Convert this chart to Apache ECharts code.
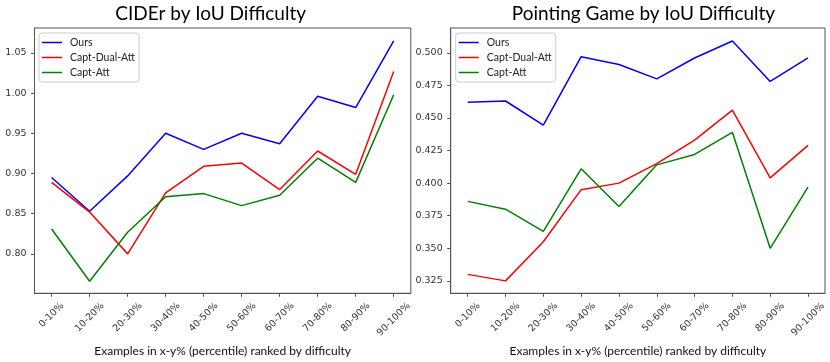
<!DOCTYPE html>
<html>
<head>
<meta charset="utf-8">
<script src="https://cdn.jsdelivr.net/npm/echarts@6/dist/echarts.min.js"></script>
<style>html,body{margin:0;padding:0;background:#fff;}#c{width:830px;height:362px;}</style>
</head>
<body>
<div id="c"></div>
<script>
const categories = ['0-10%','10-20%','20-30%','30-40%','40-50%','50-60%','60-70%','70-80%','80-90%','90-100%'];
const seriesNames = ['Ours','Capt-Dual-Att','Capt-Att'];
const ciderOurs     = [0.895,0.853,0.897,0.950,0.930,0.950,0.937,0.996,0.982,1.065];
const ciderDualAtt  = [0.889,0.852,0.800,0.876,0.909,0.913,0.880,0.928,0.899,1.027];
const ciderAtt      = [0.831,0.766,0.827,0.871,0.875,0.860,0.873,0.919,0.889,0.998];
const pgOurs        = [0.462,0.463,0.4445,0.497,0.491,0.480,0.496,0.509,0.478,0.496];
const pgDualAtt     = [0.330,0.325,0.355,0.395,0.400,0.415,0.433,0.456,0.404,0.429];
const pgAtt         = [0.386,0.380,0.363,0.411,0.382,0.414,0.422,0.439,0.350,0.397];
const ciderTicks = [0.80,0.85,0.90,0.95,1.00,1.05];
const pgTicks = [0.325,0.350,0.375,0.400,0.425,0.450,0.475,0.500];
const titles = ['CIDEr by IoU Difficulty','Pointing Game by IoU Difficulty'];
const xName = 'Examples in x-y% (percentile) ranked by difficulty';

const colors = ['#0000ff','#ff0000','#008000'];
const axisColor = '#555';
const tickFont = 'DejaVu Sans';
const tickSize = 9.5;
const labFont = 'Lato';

const ctx = document.createElement('canvas').getContext('2d');
ctx.font = tickSize + 'px "' + tickFont + '"';
const rich = {};
categories.forEach((c, i) => {
  const w = ctx.measureText(c).width;
  rich['c' + i] = {padding: [w * 0.5, w * 0.5, 0, 0], fontSize: tickSize, fontFamily: tickFont, color: '#333'};
});

function xAxis(gi) {
  return {
    type: 'value', gridIndex: gi, min: -0.45, max: 9.45,
    splitLine: {show: false},
    axisLine: {show: true, onZero: false, lineStyle: {color: axisColor}},
    axisTick: {show: true, inside: false, length: 3.5, lineStyle: {color: axisColor}, customValues: categories.map((c, i) => i)},
    axisLabel: {
      customValues: categories.map((c, i) => i),
      rotate: 45, align: 'center', verticalAlign: 'middle', margin: 11,
      formatter: v => '{c' + Math.round(v) + '|' + categories[Math.round(v)] + '}',
      rich: rich
    },
    name: xName, nameLocation: 'middle', nameGap: 50,
    nameTextStyle: {fontFamily: labFont, fontSize: 12, color: '#111', verticalAlign: 'middle'}
  };
}
function yAxis(gi, min, max, ticks, dec) {
  return {
    type: 'value', gridIndex: gi, min: min, max: max,
    splitLine: {show: false},
    axisLine: {show: true, onZero: false, lineStyle: {color: axisColor}},
    axisTick: {show: true, inside: false, length: 3.5, lineStyle: {color: axisColor}, customValues: ticks},
    axisLabel: {customValues: ticks, margin: 8, fontSize: tickSize, fontFamily: tickFont, color: '#333',
      formatter: v => v.toFixed(dec)}
  };
}
function lineSeries(name, gi, data, ci) {
  return {
    name: name, type: 'line', xAxisIndex: gi, yAxisIndex: gi,
    data: data.map((v, i) => [i, v]),
    symbol: 'none', showSymbol: false, silent: true, animation: false,
    lineStyle: {color: colors[ci], width: 1.5}, itemStyle: {color: colors[ci]}
  };
}
function legend(left) {
  return {
    orient: 'vertical', left: left, top: 33, data: seriesNames,
    icon: 'rect', itemWidth: 20, itemHeight: 1.5, itemGap: 0,
    padding: [2, 4, 2, 3],
    backgroundColor: '#fff', borderColor: '#ccc', borderWidth: 1, borderRadius: 3,
    textStyle: {fontFamily: labFont, fontSize: 10.5, lineHeight: 15, color: '#222', padding: [0, 0, 0, 3]},
    selectedMode: false
  };
}

const chart = echarts.init(document.getElementById('c'), null, {renderer: 'canvas'});
chart.setOption({
  animation: false,
  backgroundColor: '#fff',
  grid: [
    {left: 34.5, right: 830 - 410.8, top: 28, bottom: 362 - 305.7, show: true, borderColor: axisColor, borderWidth: 1, backgroundColor: 'transparent'},
    {left: 450.7, right: 830 - 825, top: 28, bottom: 362 - 305.7, show: true, borderColor: axisColor, borderWidth: 1, backgroundColor: 'transparent'}
  ],
  xAxis: [xAxis(0), xAxis(1)],
  yAxis: [yAxis(0, 0.751, 1.081, ciderTicks, 2), yAxis(1, 0.3155, 0.519, pgTicks, 3)],
  legend: [legend(39), legend(455.7)],
  graphic: [
    {type: 'text', x: 210.7, y: 14, style: {text: titles[0], fontFamily: labFont, fontSize: 19, fill: '#000', align: 'center', verticalAlign: 'middle'}},
    {type: 'text', x: 643.5, y: 14, style: {text: titles[1], fontFamily: labFont, fontSize: 19, fill: '#000', align: 'center', verticalAlign: 'middle'}}
  ],
  series: [
    lineSeries(seriesNames[0], 0, ciderOurs, 0),
    lineSeries(seriesNames[1], 0, ciderDualAtt, 1),
    lineSeries(seriesNames[2], 0, ciderAtt, 2),
    lineSeries(seriesNames[0], 1, pgOurs, 0),
    lineSeries(seriesNames[1], 1, pgDualAtt, 1),
    lineSeries(seriesNames[2], 1, pgAtt, 2)
  ]
});
</script>
</body>
</html>
